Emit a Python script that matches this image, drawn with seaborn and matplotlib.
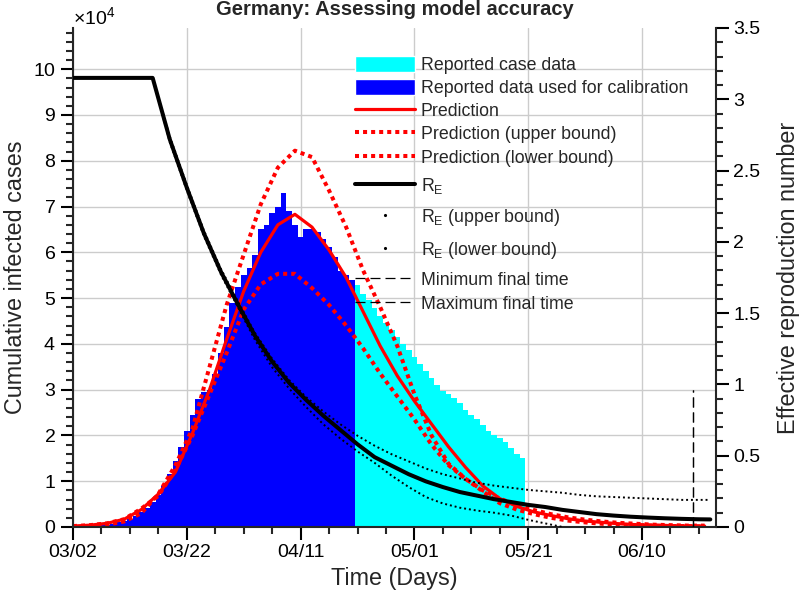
import matplotlib
matplotlib.use("Agg")
import matplotlib.pyplot as plt
from matplotlib import ticker
from matplotlib.lines import Line2D
from matplotlib.patches import Patch
import pandas as pd
import seaborn as sns

# day 0 = 03/02
calib_cases = [0.01, 0.01, 0.02, 0.02, 0.03, 0.04, 0.05, 0.07, 0.10, 0.13,
               0.18, 0.24, 0.32, 0.42, 0.55, 0.70, 0.90, 1.15, 1.45, 1.75,
               2.10, 2.45, 2.80, 2.95, 3.00, 3.35, 3.80, 4.37, 4.90, 5.25,
               5.50, 5.65, 5.95, 6.50, 6.60, 6.85, 7.00, 7.29, 6.90, 6.60,
               6.34, 6.50, 6.50, 6.45, 6.30, 6.12, 5.90, 5.60, 5.50, 5.39]
later_cases = [5.28, 5.10, 4.95, 4.78, 4.60, 4.45, 4.30, 4.15, 4.00, 3.87,
               3.72, 3.55, 3.40, 3.25, 3.10, 2.98, 2.90, 2.82, 2.70, 2.55,
               2.45, 2.35, 2.22, 2.10, 2.02, 1.95, 1.85, 1.72, 1.60, 1.50]

pred_days = list(range(0, 112, 3))
pred = [0.02, 0.04, 0.08, 0.17, 0.38, 0.72, 1.20, 2.05, 3.00, 4.10,
        5.15, 6.00, 6.60, 6.83, 6.55, 6.05, 5.45, 4.70, 3.95, 3.30,
        2.75, 2.25, 1.75, 1.30, 0.90, 0.62, 0.45, 0.33, 0.25, 0.18,
        0.13, 0.10, 0.07, 0.05, 0.04, 0.03, 0.02, 0.02]
pred_upper = [0.01, 0.02, 0.05, 0.12, 0.30, 0.72, 1.35, 2.15, 3.50, 4.85,
              5.95, 7.05, 7.85, 8.22, 8.08, 7.35, 6.55, 5.60, 4.80, 3.95,
              2.90, 2.00, 1.38, 1.05, 0.78, 0.52, 0.38, 0.28, 0.20, 0.14,
              0.10, 0.07, 0.05, 0.04, 0.03, 0.02, 0.02, 0.01]
pred_lower = [0.02, 0.04, 0.08, 0.17, 0.40, 0.68, 1.25, 2.00, 2.90, 3.80,
              4.75, 5.30, 5.53, 5.53, 5.22, 4.85, 4.40, 3.90, 3.35, 2.85,
              2.35, 1.80, 1.35, 1.05, 0.80, 0.62, 0.48, 0.37, 0.28, 0.21,
              0.16, 0.12, 0.09, 0.07, 0.05, 0.04, 0.03, 0.03]

re_days = [0, 14, 17, 20, 23, 26, 29, 32, 35, 38, 41, 44, 47, 50, 53, 56,
           59, 62, 65, 68, 71, 74, 77, 80, 83, 86, 89, 92, 95, 98, 101,
           104, 107, 110, 112]
re = [3.15, 3.15, 2.72, 2.38, 2.06, 1.79, 1.56, 1.34, 1.16, 1.01, 0.89,
      0.78, 0.68, 0.58, 0.49, 0.43, 0.37, 0.32, 0.28, 0.245, 0.22, 0.195,
      0.175, 0.155, 0.14, 0.12, 0.105, 0.09, 0.08, 0.072, 0.066, 0.061,
      0.057, 0.054, 0.053]
re_upper = [3.15, 3.15, 2.74, 2.40, 2.08, 1.81, 1.58, 1.36, 1.18, 1.03,
            0.91, 0.81, 0.72, 0.64, 0.57, 0.51, 0.46, 0.41, 0.37, 0.34,
            0.31, 0.29, 0.275, 0.26, 0.25, 0.24, 0.225, 0.215, 0.21, 0.205,
            0.20, 0.195, 0.19, 0.19, 0.19]
re_lower = [3.15, 3.15, 2.70, 2.36, 2.04, 1.77, 1.54, 1.31, 1.12, 0.97,
            0.84, 0.72, 0.62, 0.53, 0.45, 0.36, 0.28, 0.21, 0.165, 0.135,
            0.115, 0.10, 0.08, 0.05, 0.025, 0.0]

final_time_min = 109
final_time_max = 109
final_line_top = 0.96

tick_days = [0, 20, 40, 60, 80, 100]
tick_labels = ["03/02", "03/22", "04/11", "05/01", "05/21", "06/10"]

labels_pred = ["Reported case data", "Reported data used for calibration",
               "Prediction", "Prediction (upper bound)",
               "Prediction (lower bound)"]
labels_re = ["R$_\\mathregular{E}$", "R$_\\mathregular{E}$ (upper bound)",
             "R$_\\mathregular{E}$ (lower bound)"]
labels_final = ["Minimum final time", "Maximum final time"]

sns.set_style("ticks")
plt.rcParams["font.family"] = ["Liberation Sans", "DejaVu Sans"]
plt.rcParams["mathtext.fontset"] = "custom"
plt.rcParams["mathtext.rm"] = "Liberation Sans"
plt.rcParams["mathtext.default"] = "regular"

bars = pd.DataFrame({
    "day": list(range(len(calib_cases) + len(later_cases))),
    "cases": [v * 1e4 for v in calib_cases + later_cases],
    "kind": ["calib"] * len(calib_cases) + ["later"] * len(later_cases),
})

fig = plt.figure(figsize=(8, 6.06), dpi=100)
ax = fig.add_axes([0.09125, 0.1304, 0.80375, 0.8234])

sns.barplot(data=bars, x="day", y="cases", hue="kind",
            palette={"calib": "#0000ff", "later": "#00ffff"},
            native_scale=True, dodge=False, width=1, saturation=1,
            linewidth=0, legend=False, ax=ax)

dot_red = (0, (1, 1))
dot_black = (0, (1, 1.5))
sns.lineplot(x=pred_days, y=[v * 1e4 for v in pred_upper], color="red",
             lw=2.9, linestyle=dot_red, ax=ax)
sns.lineplot(x=pred_days, y=[v * 1e4 for v in pred_lower], color="red",
             lw=2.9, linestyle=dot_red, ax=ax)
sns.lineplot(x=pred_days, y=[v * 1e4 for v in pred], color="red", lw=2.3, ax=ax)

ax.set_xlim(0, 113)
ax.set_ylim(0, 109000)
ax.xaxis.set_major_locator(ticker.FixedLocator(tick_days))
ax.set_xticklabels(tick_labels)
ax.xaxis.set_minor_locator(ticker.MultipleLocator(5))
ax.yaxis.set_major_locator(ticker.MultipleLocator(10000))
ax.yaxis.set_minor_locator(ticker.MultipleLocator(2000))
ax.ticklabel_format(axis="y", style="sci", scilimits=(4, 4), useMathText=True)
ax.yaxis.get_offset_text().set_fontsize(14)
ax.grid(True, which="major", color="#cccccc", lw=1)
ax.set_axisbelow(True)
ax.set_xlabel("Time (Days)", fontsize=16.8)
ax.set_ylabel("Cumulative infected cases", fontsize=16.8)
ax.set_title("Germany: Assessing model accuracy", fontsize=14.5,
             fontweight="bold", pad=9)

ax2 = ax.twinx()
sns.lineplot(x=re_days, y=re_upper, color="black", lw=1.4,
             linestyle=dot_black, ax=ax2)
sns.lineplot(x=re_days[:len(re_lower)], y=re_lower, color="black", lw=1.4,
             linestyle=dot_black, ax=ax2)
sns.lineplot(x=re_days, y=re, color="black", lw=2.9, ax=ax2)
for t in [final_time_min, final_time_max]:
    ax2.plot([t, t], [0, final_line_top], color="black", lw=0.9,
             dashes=(8, 4))
ax2.set_ylim(0, 3.5)
ax2.set_xlim(0, 113)
ax2.yaxis.set_major_locator(ticker.MultipleLocator(0.5))
ax2.yaxis.set_minor_locator(ticker.MultipleLocator(0.1))
ax2.yaxis.set_major_formatter(ticker.FormatStrFormatter("%g"))
ax2.set_ylabel("Effective reproduction number", fontsize=16.8, labelpad=12)

for a in (ax, ax2):
    a.spines["top"].set_visible(False)
    for s in a.spines.values():
        s.set_linewidth(1.5)
    a.tick_params(which="major", direction="out", length=9, width=1.5,
                  labelsize=14, colors="black")
    a.tick_params(which="minor", direction="out", length=5, width=1.5)
ax.spines["right"].set_visible(False)
ax2.spines["left"].set_visible(False)
ax2.spines["bottom"].set_visible(False)

h_pred = [
    Patch(facecolor="#00ffff"),
    Patch(facecolor="#0000ff"),
    Line2D([], [], color="red", lw=2.3),
    Line2D([], [], color="red", lw=2.9, linestyle=dot_red),
    Line2D([], [], color="red", lw=2.9, linestyle=dot_red),
]
h_re = [
    Line2D([], [], color="black", lw=2.9),
    Line2D([], [], ls="none", marker=".", ms=2.5, color="black"),
    Line2D([], [], ls="none", marker=".", ms=2.5, color="black"),
]
h_final = [
    Line2D([], [], color="black", lw=0.9, dashes=(8, 4)),
    Line2D([], [], color="black", lw=0.9, dashes=(8, 4)),
]
leg_kw = dict(loc="upper left", frameon=False, fontsize=12.8,
              handlelength=3.4, handleheight=1.0, handletextpad=0.3,
              borderpad=0, borderaxespad=0)
leg1 = ax2.legend(h_pred, labels_pred, bbox_to_anchor=(0.4386, 0.9445),
                  labelspacing=0.29, **leg_kw)
ax2.add_artist(leg1)
leg2 = ax2.legend(h_re, labels_re, bbox_to_anchor=(0.4386, 0.7034),
                  labelspacing=0.64, **leg_kw)
ax2.add_artist(leg2)
ax2.legend(h_final, labels_final, bbox_to_anchor=(0.4386, 0.5124),
           labelspacing=0.29, **leg_kw)

fig.savefig("out.png", dpi=100)
